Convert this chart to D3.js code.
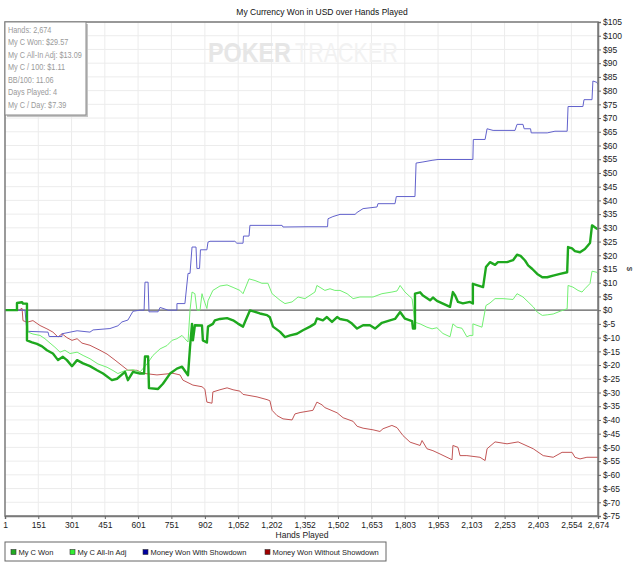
<!DOCTYPE html>
<html>
<head>
<meta charset="utf-8">
<script src="https://cdn.jsdelivr.net/npm/d3@7"></script>
<style>
  body { margin: 0; background: #fff; }
  text { font-family: "Liberation Sans", Arial, sans-serif; }
</style>
</head>
<body>
<div id="chart"></div>
<script>
// tick labels
var handTicks = [1, 151, 301, 451, 601, 751, 902, 1052, 1202, 1352, 1502, 1653, 1803, 1953, 2103, 2253, 2403, 2554, 2674];
var dollarTicks = d3.range(-75, 106, 5);

var statLines = ["Hands: 2,674", "My C Won: $29.57", "My C All-In Adj: $13.09", "My C / 100: $1.11",
                 "BB/100: 11.06", "Days Played: 4", "My C / Day: $7.39"];

var seriesNames = ["My C Won", "My C All-In Adj", "Money Won With Showdown", "Money Won Without Showdown"];

// [hands, dollars]
var myCWon = [[1,0],[55,0],[55,2.6],[78,2.9],[82,2.4],[100,2.4],[100,-11],[123,-11.7],[145,-12.3],[168,-13.2],
  [190,-14.6],[217,-15.8],[240,-18.2],[262,-17],[280,-18.2],[303,-20.4],[326,-18.2],[353,-19.4],[384,-20.4],
  [416,-21.9],[443,-23.1],[483,-25.5],[506,-25],[542,-22.5],[555,-25.5],[578,-22.5],[610,-23.1],[628,-23.1],
  [632,-16.9],[646,-16.9],[650,-28.4],[691,-28.7],[713,-26.8],[745,-23.1],[776,-21.3],[799,-20.6],[826,-23.7],
  [835,-13.5],[844,-5],[848,-11],[857,-5.5],[889,-5.6],[893,-11],[911,-11.8],[916,-6],[938,-5],[947,-3.7],
  [970,-3.2],[1002,-2.9],[1029,-3.7],[1051,-4.9],[1074,-6],[1083,-4.2],[1105,-0.1],[1128,-0.6],[1150,-1.2],
  [1182,-1.8],[1195,-2.6],[1209,-6],[1241,-7.9],[1263,-9.8],[1286,-9.2],[1317,-8.6],[1344,-7.3],[1376,-6],
  [1398,-4.9],[1407,-3],[1434,-3.7],[1452,-2.5],[1475,-4.3],[1498,-2.5],[1511,-3.2],[1543,-3.7],[1565,-4.9],
  [1588,-6.7],[1615,-5.5],[1646,-5.5],[1669,-6.7],[1700,-4.6],[1736,-3.7],[1759,-3.2],[1782,-0.7],[1804,-3.1],
  [1836,-4],[1840,-6.7],[1849,-6.7],[1849,6],[1872,6.5],[1885,5.3],[1917,3.6],[1930,4.6],[1948,3.4],[1975,2.4],
  [2007,1.2],[2020,6.6],[2029,5.5],[2043,3],[2065,2.5],[2097,3],[2110,2.4],[2110,9.6],[2156,8.4],[2169,15.7],
  [2187,17.5],[2210,16.5],[2223,17.5],[2264,17.5],[2291,18.2],[2309,20.2],[2325,19.8],[2345,18.1],[2359,16.3],
  [2378,15],[2400,13.2],[2423,12],[2445,12],[2472,12.6],[2503,13.2],[2535,13.8],[2539,23],[2557,22.5],
  [2570,21.5],[2593,21.1],[2615,22.3],[2638,24.5],[2647,30.9],[2669,29.7],[2674,29.57]];

var allInAdj = [[1,0],[55,0],[55,2.6],[78,2.9],[82,2.4],[100,2.4],[105,-8],[127,-8.7],[159,-9.2],[181,-10.4],
  [204,-12],[226,-13.5],[249,-15.3],[271,-14.6],[294,-15.8],[326,-15.3],[353,-16.5],[384,-17.7],[420,-19.6],
  [461,-20.8],[488,-22],[510,-23.1],[542,-22],[578,-21.7],[610,-22.5],[641,-19.6],[668,-16.5],[700,-14.1],
  [731,-12.9],[754,-11],[776,-10.4],[799,-9.2],[812,-10.4],[826,-11.6],[835,0],[844,6.6],[857,6],[866,0],
  [880,0],[889,6],[893,4.8],[911,0.6],[916,3.4],[938,7.2],[970,8.8],[1002,9.2],[1029,8.3],[1060,7.2],[1074,6],
  [1101,11.4],[1128,10.8],[1159,9.8],[1186,9.8],[1205,6],[1241,3.6],[1263,2.4],[1295,3],[1322,4.8],[1353,4.2],
  [1398,6.6],[1407,9],[1421,8.3],[1443,7.2],[1466,7.8],[1488,7.2],[1511,7.2],[1543,6],[1570,4.2],[1601,4.8],
  [1660,4.8],[1700,6],[1745,6.6],[1768,7],[1782,9],[1804,6.6],[1836,4.2],[1849,-4.4],[1872,-5],[1903,-6.2],
  [1926,-6.8],[1948,-6.4],[1975,-8.5],[2007,-9.7],[2020,-5],[2038,-6.2],[2061,-6.6],[2083,-9.7],[2097,-9.2],
  [2110,-9.2],[2110,-5],[2151,-6.2],[2169,1.7],[2187,2.6],[2210,4.2],[2246,4.2],[2291,3.9],[2309,6],[2336,4.8],
  [2359,3],[2382,1.2],[2400,-0.7],[2423,-1.9],[2445,-1.7],[2472,-1.4],[2503,-0.4],[2535,0.5],[2539,9],
  [2561,8.4],[2584,7.2],[2602,6.6],[2615,7.8],[2638,9.7],[2647,14.2],[2669,13.8],[2674,13.09]];

var withShowdown = [[1,0],[91,0],[100,-7.7],[195,-8],[200,-9.6],[258,-9.6],[258,-8.6],[326,-7.5],[384,-8],
  [398,-7.2],[474,-6.7],[510,-5.7],[528,-4.3],[555,-3.6],[578,-0.4],[610,0],[628,0],[632,10.2],[646,10.2],
  [650,-0.6],[691,-0.6],[700,1],[736,0],[776,0],[776,2.4],[812,2.4],[826,13.4],[835,13.4],[844,23],[862,23],
  [866,15.2],[878,15.2],[882,22],[911,22],[916,24.8],[925,25.1],[1037,25.1],[1046,24.4],[1074,24.4],[1076,27],
  [1101,27],[1105,30.9],[1250,30.9],[1254,30.3],[1367,30.4],[1455,30.4],[1457,33.3],[1479,34.1],[1511,34.9],
  [1579,34.9],[1588,35.6],[1615,37],[1678,37.6],[1682,38.8],[1759,38.8],[1765,41.4],[1849,41.4],[1854,53.6],
  [1885,54],[1926,54.6],[1953,54.9],[2110,54.9],[2112,62.2],[2165,62.2],[2174,66.1],[2201,65.5],[2300,65.5],
  [2309,67.7],[2336,67.7],[2341,66.1],[2370,66.1],[2373,64.6],[2445,64.6],[2480,65.2],[2535,65.2],[2539,74.2],
  [2606,74.2],[2611,76.7],[2647,76.7],[2651,83.5],[2669,83],[2674,82.2]];

var withoutShowdown = [[1,0],[69,0],[73,0.6],[78,0.6],[82,-3.8],[100,-4.4],[127,-3.8],[159,-5.6],[190,-6.8],
  [217,-8],[240,-9.8],[258,-8.6],[280,-10],[303,-11],[326,-10.4],[348,-12],[384,-12.8],[429,-14.6],[461,-16],
  [497,-18.2],[533,-20.5],[555,-21.9],[596,-21.9],[623,-23],[686,-23.6],[758,-23],[790,-23.6],[803,-25.5],
  [848,-27.3],[889,-27.9],[902,-28.8],[911,-33.5],[934,-33.9],[938,-29.8],[970,-29],[1002,-28.3],[1029,-29],
  [1060,-29.5],[1074,-30.7],[1137,-31.6],[1182,-32.6],[1195,-33],[1205,-36.5],[1227,-38.4],[1254,-39.6],
  [1295,-40],[1308,-37.8],[1331,-37.3],[1389,-36.5],[1407,-33.5],[1430,-34.5],[1443,-35.5],[1498,-37.4],
  [1525,-39.2],[1570,-40.5],[1588,-42.3],[1615,-43],[1660,-43.6],[1691,-44.2],[1705,-43.2],[1745,-42],
  [1768,-42.8],[1795,-45.7],[1827,-48.1],[1872,-49.3],[1881,-47.5],[1903,-50.5],[1930,-51.2],[1962,-52.4],
  [2016,-54.5],[2020,-49.3],[2043,-50],[2052,-53],[2083,-53],[2142,-53.6],[2165,-54.8],[2174,-50.5],
  [2210,-48],[2264,-48.7],[2314,-48],[2382,-50.5],[2427,-53],[2472,-53.6],[2512,-51.8],[2557,-51.8],
  [2570,-53.6],[2593,-54.2],[2624,-53.6],[2674,-53.6]];

var lineColors = ["#1ea81e", "#72f072", "#6262cc", "#c25656"];
var legendColors = ["#22aa22", "#33ee33", "#0000a0", "#a00000"];

var margin = {top: 22, right: 42, bottom: 52, left: 5},
    width = 640 - margin.left - margin.right,
    height = 568 - margin.top - margin.bottom;

var svg = d3.select("#chart")
  .append("svg")
    .attr("width", 640)
    .attr("height", 568);

var g = svg.append("g")
    .attr("transform", "translate(" + margin.left + "," + margin.top + ")");

var x = d3.scaleLinear()
  .domain([1, 2674])
  .range([0, width]);

var y = d3.scaleLinear()
  .domain([-75, 105])
  .range([height, 0]);

// title
svg.append("text")
  .attr("x", 322)
  .attr("y", 15)
  .attr("text-anchor", "middle")
  .style("font-size", "8.5px")
  .style("fill", "#111")
  .text("My Currency Won in USD over Hands Played");

// grid
g.append("g")
  .selectAll("line")
  .data(handTicks.slice(1, -1))
  .join("line")
    .attr("x1", d => x(d)).attr("x2", d => x(d))
    .attr("y1", 0).attr("y2", height)
    .style("stroke", "#ececec");

g.append("g")
  .selectAll("line")
  .data(dollarTicks)
  .join("line")
    .attr("x1", 0).attr("x2", width)
    .attr("y1", d => y(d)).attr("y2", d => y(d))
    .style("stroke", "#ececec");

// watermark, each word squeezed to its width in the picture
function watermark(word, left, w, bold, color) {
  var t = svg.append("text")
    .attr("x", 0)
    .attr("y", 0)
    .style("font-size", "27px")
    .style("font-weight", bold ? "bold" : "normal")
    .style("fill", color)
    .text(word);
  var len = t.node().getComputedTextLength();
  t.attr("transform", "translate(" + left + ",62) scale(" + (w / len) + ",1)");
}
watermark("POKER", 208, 83, true, "#e6e6e6");
watermark("TRACKER", 295, 103, false, "#f2f2f2");

// zero line
g.append("line")
  .attr("x1", 0).attr("x2", width)
  .attr("y1", y(0)).attr("y2", y(0))
  .style("stroke", "#606060")
  .style("stroke-width", 1.2);

var line = d3.line()
  .x(d => x(d[0]))
  .y(d => y(d[1]));

var series = [withoutShowdown, withShowdown, allInAdj, myCWon];
var seriesColor = [lineColors[3], lineColors[2], lineColors[1], lineColors[0]];
var seriesWidth = [1, 1, 1, 2.4];

g.selectAll(".series")
  .data(series)
  .join("path")
    .attr("class", "series")
    .attr("d", line)
    .attr("fill", "none")
    .attr("stroke", (d, i) => seriesColor[i])
    .attr("stroke-width", (d, i) => seriesWidth[i])
    .attr("stroke-linejoin", "round");

// frame
g.append("rect")
  .attr("width", width)
  .attr("height", height)
  .style("fill", "none")
  .style("stroke", "#7a7a7a")
  .style("stroke-width", 1.5);

// right axis
var yAxis = g.append("g")
  .attr("transform", "translate(" + width + ",0)")
  .call(d3.axisRight(y).tickValues(dollarTicks).tickSize(3).tickPadding(2)
    .tickFormat(d => "$" + d));
yAxis.select(".domain").style("stroke", "#7a7a7a").style("stroke-width", 1.5);
yAxis.selectAll(".tick line").style("stroke", "#666");
yAxis.selectAll("text").style("font-size", "8.5px").style("fill", "#222");

svg.append("text")
  .attr("transform", "translate(627,269) rotate(90)")
  .attr("text-anchor", "middle")
  .style("font-size", "8px")
  .style("fill", "#222")
  .text("$");

// bottom axis
var xAxis = g.append("g")
  .attr("transform", "translate(0," + height + ")")
  .call(d3.axisBottom(x).tickValues(handTicks).tickSize(3).tickPadding(3)
    .tickFormat(d3.format(",")));
xAxis.select(".domain").style("stroke", "#7a7a7a").style("stroke-width", 1.5);
xAxis.selectAll(".tick line").style("stroke", "#666");
xAxis.selectAll("text").style("font-size", "8.5px").style("fill", "#222");

svg.append("text")
  .attr("x", 302)
  .attr("y", 538)
  .attr("text-anchor", "middle")
  .style("font-size", "8.5px")
  .style("fill", "#222")
  .text("Hands Played");

// stats box
var stats = svg.append("g");
stats.append("rect")
  .attr("x", 7).attr("y", 24)
  .attr("width", 81).attr("height", 93)
  .style("fill", "#c4c4c4");
stats.append("rect")
  .attr("x", 5).attr("y", 22)
  .attr("width", 81).attr("height", 93)
  .style("fill", "#fff")
  .style("stroke", "#888");
stats.append("g")
  .attr("transform", "translate(8,0) scale(0.86,1)")
  .selectAll(".stat")
  .data(statLines)
  .join("text")
    .attr("class", "stat")
    .attr("x", 0)
    .attr("y", (d, i) => 33 + i * 12.5)
    .style("font-size", "8.5px")
    .style("fill", "#9a9a9a")
    .text(d => d);

// legend
var legend = svg.append("g");
legend.append("rect")
  .attr("x", 5).attr("y", 542)
  .attr("width", 381).attr("height", 19)
  .style("fill", "#fff")
  .style("stroke", "#666");

var legendX = [11, 70, 143, 265];
var items = legend.selectAll(".item")
  .data(seriesNames)
  .join("g")
    .attr("class", "item")
    .attr("transform", (d, i) => "translate(" + legendX[i] + ",552)");
items.append("rect")
  .attr("x", 0).attr("y", -2.5)
  .attr("width", 5).attr("height", 5)
  .style("fill", (d, i) => legendColors[i])
  .style("stroke", "#333")
  .style("stroke-width", 0.6);
items.append("text")
  .attr("x", 8)
  .attr("y", 3)
  .attr("transform", "scale(0.94,1)")
  .style("font-size", "8px")
  .style("fill", "#222")
  .text(d => d);
</script>
</body>
</html>
